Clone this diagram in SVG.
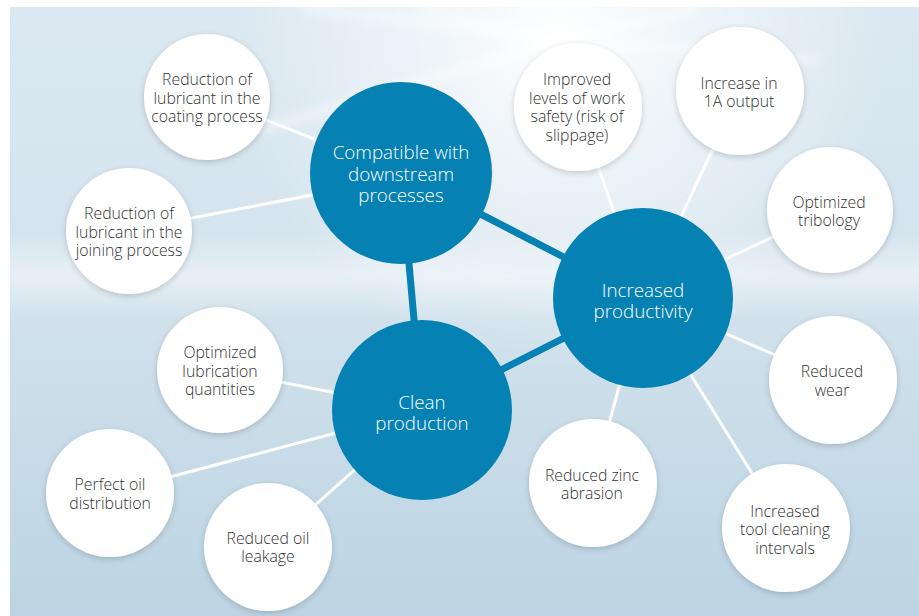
<svg xmlns="http://www.w3.org/2000/svg" width="919" height="616" viewBox="0 0 919 616">
<defs>
<linearGradient id="bg" x1="0" y1="0" x2="0" y2="1">
<stop offset="0" stop-color="#dbe8f1"/>
<stop offset="0.45" stop-color="#d3e3ed"/>
<stop offset="1" stop-color="#bcd4e3"/>
</linearGradient>
<radialGradient id="glow" cx="560" cy="40" r="330" gradientUnits="userSpaceOnUse">
<stop offset="0" stop-color="#ffffff" stop-opacity="1"/>
<stop offset="0.35" stop-color="#ffffff" stop-opacity="0.6"/>
<stop offset="1" stop-color="#ffffff" stop-opacity="0"/>
</radialGradient>
<linearGradient id="band" x1="0" y1="0" x2="0" y2="1">
<stop offset="0" stop-color="#ffffff" stop-opacity="0"/>
<stop offset="0.5" stop-color="#ffffff" stop-opacity="0.45"/>
<stop offset="1" stop-color="#ffffff" stop-opacity="0"/>
</linearGradient>
<filter id="sh" x="-20%" y="-20%" width="140%" height="140%">
<feGaussianBlur in="SourceAlpha" stdDeviation="3"/>
<feOffset dx="0" dy="2"/>
<feComponentTransfer><feFuncA type="linear" slope="0.18"/></feComponentTransfer>
<feMerge><feMergeNode/><feMergeNode in="SourceGraphic"/></feMerge>
</filter>
<filter id="blur"><feGaussianBlur stdDeviation="5"/></filter>
</defs>
<style>
.w{fill:#ffffff;filter:url(#sh)}
.b{fill:#0581b4}
.tw{font-family:"Open Sans","Noto Sans",sans-serif;font-weight:300;font-size:15.8px;fill:#333333;text-anchor:middle}
.tb{font-family:"Open Sans","Noto Sans",sans-serif;font-weight:300;font-size:18.8px;fill:#ffffff;text-anchor:middle}
.lw{stroke:#ffffff;stroke-width:3;fill:none}
.lb{stroke:#0581b4;stroke-width:7;fill:none}
</style>
<rect x="0" y="0" width="919" height="616" fill="#ffffff"/>
<rect x="10" y="7" width="909" height="609" fill="url(#bg)"/>
<rect x="10" y="230" width="909" height="90" fill="url(#band)"/>
<rect x="10" y="7" width="909" height="609" fill="url(#glow)"/>
<g stroke="#ffffff" stroke-opacity="0.4" stroke-width="10" filter="url(#blur)">
<line x1="560" y1="40" x2="300" y2="7"/>
<line x1="560" y1="40" x2="420" y2="7"/>
<line x1="560" y1="40" x2="700" y2="7"/>
<line x1="560" y1="40" x2="820" y2="60"/>
<line x1="560" y1="40" x2="260" y2="130"/>
</g>
<g id="connectors">
<line class="lw" x1="207" y1="97" x2="401" y2="173"/>
<line class="lw" x1="129" y1="230" x2="401" y2="178"/>
<line class="lw" x1="578" y1="107" x2="643" y2="298"/>
<line class="lw" x1="740" y1="91" x2="643" y2="298"/>
<line class="lw" x1="830" y1="210" x2="643" y2="298"/>
<line class="lw" x1="833" y1="380" x2="643" y2="298"/>
<line class="lw" x1="786" y1="528" x2="643" y2="298"/>
<line class="lw" x1="593" y1="483" x2="643" y2="298"/>
<line class="lw" x1="220" y1="370" x2="422" y2="410"/>
<line class="lw" x1="110" y1="493" x2="422" y2="410"/>
<line class="lw" x1="268" y1="547" x2="422" y2="410"/>
<line class="lb" x1="401" y1="173" x2="643" y2="298"/>
<line class="lb" x1="401" y1="173" x2="422" y2="410"/>
<line class="lb" x1="422" y1="410" x2="643" y2="298"/>
</g>
<g id="n-compatible"><circle class="b" cx="401" cy="173" r="91"/>
<text class="tb" x="401" y="159">Compatible with</text><text class="tb" x="401" y="181">downstream</text><text class="tb" x="401" y="202">processes</text></g>
<g id="n-productivity"><circle class="b" cx="643" cy="298" r="90"/>
<text class="tb" x="643" y="297">Increased</text><text class="tb" x="643" y="318">productivity</text></g>
<g id="n-clean"><circle class="b" cx="422" cy="410" r="90"/>
<text class="tb" x="422" y="409">Clean</text><text class="tb" x="422" y="430">production</text></g>
<g id="n-coating"><circle class="w" cx="207" cy="97" r="63"/>
<text class="tw" x="207" y="85">Reduction of</text><text class="tw" x="207" y="104">lubricant in the</text><text class="tw" x="207" y="122">coating process</text></g>
<g id="n-joining"><circle class="w" cx="129" cy="231" r="63"/>
<text class="tw" x="129" y="219">Reduction of</text><text class="tw" x="129" y="238">lubricant in the</text><text class="tw" x="129" y="256">joining process</text></g>
<g id="n-lubrication"><circle class="w" cx="220" cy="370" r="63"/>
<text class="tw" x="220" y="358">Optimized</text><text class="tw" x="220" y="377">lubrication</text><text class="tw" x="220" y="395">quantities</text></g>
<g id="n-oildist"><circle class="w" cx="110" cy="493" r="64"/>
<text class="tw" x="110" y="490">Perfect oil</text><text class="tw" x="110" y="509">distribution</text></g>
<g id="n-leakage"><circle class="w" cx="268" cy="547" r="64"/>
<text class="tw" x="268" y="544">Reduced oil</text><text class="tw" x="268" y="562">leakage</text></g>
<g id="n-safety"><circle class="w" cx="578" cy="107" r="64"/>
<text class="tw" x="577" y="85">Improved</text><text class="tw" x="577" y="104">levels of work</text><text class="tw" x="577" y="122">safety (risk of</text><text class="tw" x="577" y="141">slippage)</text></g>
<g id="n-output"><circle class="w" cx="740" cy="91" r="64"/>
<text class="tw" x="739" y="89">Increase in</text><text class="tw" x="739" y="107">1A output</text></g>
<g id="n-tribology"><circle class="w" cx="830" cy="210" r="63"/>
<text class="tw" x="829" y="208">Optimized</text><text class="tw" x="829" y="226">tribology</text></g>
<g id="n-wear"><circle class="w" cx="833" cy="380" r="64"/>
<text class="tw" x="832" y="377">Reduced</text><text class="tw" x="832" y="396">wear</text></g>
<g id="n-zinc"><circle class="w" cx="593" cy="483" r="64"/>
<text class="tw" x="592" y="481">Reduced zinc</text><text class="tw" x="592" y="499">abrasion</text></g>
<g id="n-tool"><circle class="w" cx="786" cy="528" r="64"/>
<text class="tw" x="785" y="517">Increased</text><text class="tw" x="785" y="535">tool cleaning</text><text class="tw" x="785" y="554">intervals</text></g>
</svg>
